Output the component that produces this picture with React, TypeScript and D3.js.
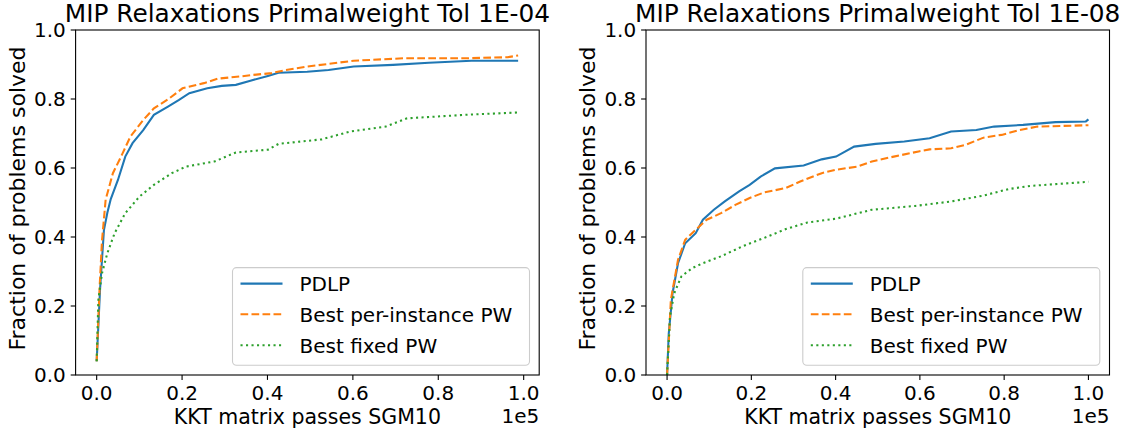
import React from "react";
import * as d3 from "d3";

// values: x in KKT matrix passes, y = fraction of problems solved
const seriesNames = ["PDLP", "Best per-instance PW", "Best fixed PW"];
const seriesColors = ["#1f77b4", "#ff7f0e", "#2ca02c"];
const yTicks = [0, 0.2, 0.4, 0.6, 0.8, 1.0];
const xTicks = [0, 20000, 40000, 60000, 80000, 100000];

const pdlpTol4: [number, number][] = [
  [0, 0.04], [800, 0.25], [1700, 0.42], [2500, 0.47], [3300, 0.51], [5000, 0.566],
  [6700, 0.633], [8400, 0.672], [10900, 0.71], [13400, 0.754], [16700, 0.778],
  [19200, 0.797], [21700, 0.817], [25900, 0.831], [29300, 0.838], [32600, 0.841],
  [36000, 0.853], [40100, 0.867], [42600, 0.876], [49300, 0.879], [54300, 0.884],
  [60200, 0.894], [69400, 0.899], [77800, 0.905], [87800, 0.911], [98700, 0.911],
];
const perInstTol4: [number, number][] = [
  [0, 0.04], [700, 0.257], [1250, 0.39], [2100, 0.508], [3800, 0.585], [5900, 0.638],
  [7900, 0.691], [10900, 0.739], [13400, 0.773], [16700, 0.799], [20100, 0.831],
  [25100, 0.846], [28400, 0.859], [33400, 0.865], [36000, 0.869], [41000, 0.875],
  [44300, 0.884], [49300, 0.894], [60200, 0.911], [71900, 0.918], [86100, 0.918],
  [96200, 0.921], [98700, 0.926],
];
const fixedTol4: [number, number][] = [
  [0, 0.04], [400, 0.218], [1250, 0.295], [2500, 0.353], [4200, 0.411], [6700, 0.469],
  [10000, 0.517], [13400, 0.551], [17600, 0.585], [20900, 0.604], [27600, 0.619],
  [32600, 0.645], [40100, 0.653], [42600, 0.67], [52700, 0.683], [59400, 0.706],
  [67700, 0.72], [72700, 0.744], [86100, 0.754], [98700, 0.761],
];

const pdlpTol8: [number, number][] = [
  [0, 0.0], [400, 0.12], [1300, 0.237], [2600, 0.324], [4300, 0.382], [6800, 0.411],
  [8500, 0.45], [11100, 0.479], [13700, 0.503], [17100, 0.532], [19600, 0.551],
  [22200, 0.575], [25600, 0.599], [32400, 0.607], [36700, 0.625], [40100, 0.633],
  [44400, 0.662], [49500, 0.67], [56300, 0.677], [62300, 0.686], [67400, 0.706],
  [73400, 0.71], [77600, 0.72], [84500, 0.725], [92200, 0.733], [99400, 0.735],
  [100000, 0.741],
];
const perInstTol8: [number, number][] = [
  [0, 0.0], [900, 0.218], [2600, 0.334], [4300, 0.392], [6800, 0.421], [9400, 0.45],
  [12800, 0.469], [16200, 0.493], [19600, 0.513], [23000, 0.529], [28200, 0.542],
  [31600, 0.561], [36700, 0.585], [40100, 0.595], [45200, 0.604], [48600, 0.619],
  [53800, 0.633], [59700, 0.648], [62300, 0.654], [67400, 0.657], [70800, 0.667],
  [75100, 0.688], [79400, 0.696], [83600, 0.71], [87900, 0.72], [100000, 0.724],
];
const fixedTol8: [number, number][] = [
  [0, 0.0], [700, 0.17], [1700, 0.237], [3400, 0.286], [6000, 0.31], [8500, 0.324],
  [12800, 0.344], [17900, 0.373], [23000, 0.397], [28200, 0.423], [33300, 0.442],
  [40100, 0.453], [48600, 0.479], [58900, 0.49], [67400, 0.503], [75100, 0.52],
  [81100, 0.539], [86200, 0.548], [100000, 0.56],
];

const FONT = "DejaVu Sans";
const FS = 20;
const XLABEL_FS = 20.5;
const YLABEL_FS = 22;
const TITLE_FS = 24.8;
const dashes = [null, "7.7,3.3", "2.1,3.4"];

type PlotProps = {
  title: string;
  series: [number, number][][];
  x0: number;
  x1: number;
};

function Plot({ title, series, x0, x1 }: PlotProps) {
  const top = 30;
  const bottom = 375;
  const xMax = d3.max(series.flat(), (d) => d[0]) as number;
  const pad = 0.05 * xMax;
  const x = d3.scaleLinear().domain([-pad, xMax + pad]).range([x0, x1]);
  const y = d3.scaleLinear().domain([0, 1]).range([bottom, top]);
  const line = d3
    .line<[number, number]>()
    .x((d) => x(d[0]))
    .y((d) => y(d[1]));
  const cx = (x0 + x1) / 2;

  const legW = 297;
  const legH = 97.7;
  const legX = x1 - 9.7 - legW;
  const legY = bottom - 9.7 - legH;
  const rowY = [16, 46.7, 77.7];

  return (
    <g>
      <text x={cx} y={21.7} textAnchor="middle" fontSize={TITLE_FS} fontFamily={FONT}>
        {title}
      </text>
      <defs>
        <clipPath id={"clip" + Math.round(x0)}>
          <rect x={x0} y={top} width={x1 - x0} height={bottom - top} />
        </clipPath>
      </defs>
      <g clipPath={`url(#clip${Math.round(x0)})`}>
        {series.map((s, i) => (
          <path
            key={i}
            d={line(s) || ""}
            fill="none"
            stroke={seriesColors[i]}
            strokeWidth={2.08}
            strokeDasharray={dashes[i] || undefined}
          />
        ))}
      </g>
      <rect x={x0} y={top} width={x1 - x0} height={bottom - top} fill="none" stroke="#000" strokeWidth={1.1} />
      {yTicks.map((t) => (
        <g key={"y" + t}>
          <line x1={x0 - 4.9} x2={x0} y1={y(t)} y2={y(t)} stroke="#000" strokeWidth={1.1} />
          <text
            x={x0 - 9.8}
            y={y(t) + 0.36 * FS}
            textAnchor="end"
            fontSize={FS}
            fontFamily={FONT}
          >
            {t.toFixed(1)}
          </text>
        </g>
      ))}
      {xTicks.map((t) => (
        <g key={"x" + t}>
          <line x1={x(t)} x2={x(t)} y1={bottom} y2={bottom + 4.9} stroke="#000" strokeWidth={1.1} />
          <text x={x(t)} y={399.5} textAnchor="middle" fontSize={FS} fontFamily={FONT}>
            {(t / 1e5).toFixed(1)}
          </text>
        </g>
      ))}
      <text x={x1} y={423} textAnchor="end" fontSize={FS} fontFamily={FONT}>
        1e5
      </text>
      <text x={cx} y={423.5} textAnchor="middle" fontSize={XLABEL_FS} fontFamily={FONT}>
        KKT matrix passes SGM10
      </text>
      <text
        transform={`translate(${x0 - 51},${(top + bottom) / 2 - 4}) rotate(-90)`}
        textAnchor="middle"
        fontSize={YLABEL_FS}
        fontFamily={FONT}
      >
        Fraction of problems solved
      </text>
      <rect
        x={legX}
        y={legY}
        width={legW}
        height={legH}
        rx={4}
        fill="#fff"
        fillOpacity={0.8}
        stroke="#cccccc"
        strokeWidth={1.1}
      />
      {seriesNames.map((n, i) => (
        <g key={n}>
          <line
            x1={legX + 8}
            x2={legX + 50}
            y1={legY + rowY[i]}
            y2={legY + rowY[i]}
            stroke={seriesColors[i]}
            strokeWidth={2.08}
            strokeDasharray={dashes[i] || undefined}
          />
          <text x={legX + 67} y={legY + rowY[i] + 7.5} fontSize={FS} fontFamily={FONT}>
            {n}
          </text>
        </g>
      ))}
    </g>
  );
}

export default function App() {
  return (
    <svg
      width={1134}
      height={433}
      style={{ position: "absolute", left: 0, top: 0, background: "#fff" }}
    >
      <rect width={1134} height={433} fill="#fff" />
      <Plot
        title="MIP Relaxations Primalweight Tol 1E-04"
        series={[pdlpTol4, perInstTol4, fixedTol4]}
        x0={75.6}
        x1={539.2}
      />
      <Plot
        title="MIP Relaxations Primalweight Tol 1E-08"
        series={[pdlpTol8, perInstTol8, fixedTol8]}
        x0={646}
        x1={1109.5}
      />
    </svg>
  );
}
